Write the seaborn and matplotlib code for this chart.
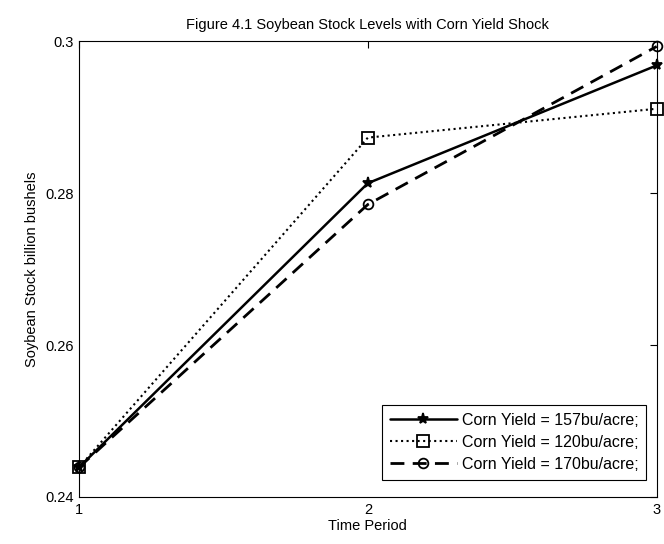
import pandas as pd
import numpy as np
import matplotlib
matplotlib.use("Agg")
import matplotlib.pyplot as plt
import seaborn as sns

# data
periods = [1, 2, 3]
stock_157 = [0.2439, 0.2813, 0.2968]
stock_120 = [0.2439, 0.2873, 0.2911]
stock_170 = [0.2439, 0.2785, 0.2993]
labels = ["Corn Yield = 157bu/acre;", "Corn Yield = 120bu/acre;", "Corn Yield = 170bu/acre;"]

sns.set_theme(style="white")
plt.rcParams['font.family'] = ['Liberation Sans', 'DejaVu Sans']
plt.rcParams['text.color'] = 'black'
plt.rcParams['axes.labelcolor'] = 'black'

df = pd.DataFrame({"period": periods * 3,
                   "stock": stock_157 + stock_120 + stock_170,
                   "series": [labels[0]] * 3 + [labels[1]] * 3 + [labels[2]] * 3})

fig = plt.figure(figsize=(6.64, 5.44), dpi=100)
ax = fig.add_axes([0.119, 0.0864, 0.870, 0.838])

styles = [
    dict(linestyle='-', marker='*', markersize=8, linewidth=1.8, mfc='black'),
    dict(linestyle=':', marker='s', markersize=9, linewidth=1.5, mfc='none'),
    dict(linestyle=(0, (5, 3)), marker='o', markersize=7, linewidth=2.0, mfc='none'),
]
for lab, st in zip(labels, styles):
    sub = df[df["series"] == lab]
    sns.lineplot(data=sub, x="period", y="stock", ax=ax, color='black',
                 mec='black', mew=1.3, label=lab, clip_on=False, **st)

ax.set_xlim(1, 3)
ax.set_ylim(0.24, 0.30)
ax.set_xticks([1, 2, 3])
ax.set_xticklabels(["1", "2", "3"])
ax.set_yticks([0.24, 0.26, 0.28, 0.30])
ax.set_yticklabels(["0.24", "0.26", "0.28", "0.3"])
ax.tick_params(direction='in', length=5, width=0.8, top=True, right=True,
               labelsize=10.5, colors='black', pad=4)
for sp in ax.spines.values():
    sp.set_visible(True)
    sp.set_color('black')
    sp.set_linewidth(0.8)

ax.set_title("Figure 4.1 Soybean Stock Levels with Corn Yield Shock", fontsize=10.5, pad=9)
ax.set_xlabel("Time Period", fontsize=10.5, labelpad=2)
ax.set_ylabel("Soybean Stock billion bushels", fontsize=10.5, labelpad=4)

leg = ax.legend(loc='lower right', bbox_to_anchor=(0.996, 0.02), fontsize=11.5,
                frameon=True, fancybox=False, edgecolor='black', framealpha=1,
                handlelength=4.2, handletextpad=0.3, borderpad=0.5, labelspacing=0.45)
leg.get_frame().set_linewidth(0.8)

fig.savefig("out.png", dpi=100)
